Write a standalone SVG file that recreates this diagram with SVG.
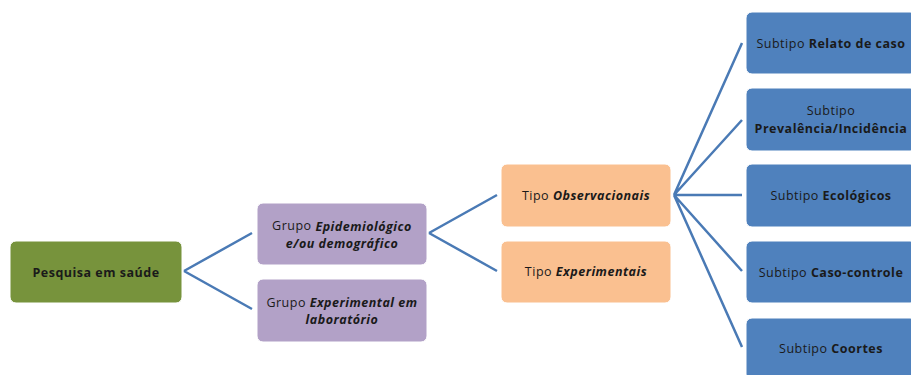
<svg xmlns="http://www.w3.org/2000/svg" width="911" height="375" viewBox="0 0 911 375">
<style>
text{font-family:"Open Sans","DejaVu Sans",sans-serif;font-size:12.5px;letter-spacing:0.5px;fill:#1a1a1a;text-anchor:middle;dominant-baseline:central}
.b{font-weight:bold}
.bi{font-weight:bold;font-style:italic}
.root{fill:#77933C}
.grp{fill:#B2A1C7}
.tip{fill:#FAC090}
.sub{fill:#4F81BD}
.box{stroke:#ffffff;stroke-width:1}
#connectors path{fill:none;stroke:#4A7AB5;stroke-width:2.5}
</style>
<rect width="911" height="375" fill="#ffffff"/>
<g id="connectors">
<path d="M184,271 L252,233 M184,271 L252,309"/>
<path d="M429,233 L497,195 M429,233 L497,271"/>
<path d="M674,195 L742,43 M674,195 L742,120 M674,195 L742,195 M674,195 L742,271 M674,195 L742,347"/>
</g>
<g id="root">
<rect class="root box" x="10" y="241" width="172" height="62" rx="6"/>
<text x="96" y="272" class="b">Pesquisa em saúde</text>
</g>
<g id="grupo-epidemiologico">
<rect class="grp box" x="257" y="203" width="170" height="62" rx="6"/>
<text x="342" y="225.5">Grupo <tspan class="bi">Epidemiológico</tspan><tspan x="342" dy="17" class="bi">e/ou demográfico</tspan></text>
</g>
<g id="grupo-experimental">
<rect class="grp box" x="257" y="279" width="170" height="63" rx="6"/>
<text x="342" y="302">Grupo <tspan class="bi">Experimental em</tspan><tspan x="342" dy="17" class="bi">laboratório</tspan></text>
</g>
<g id="tipo-observacionais">
<rect class="tip box" x="501" y="164" width="170" height="63" rx="6"/>
<text x="586" y="195">Tipo <tspan class="bi">Observacionais</tspan></text>
</g>
<g id="tipo-experimentais">
<rect class="tip box" x="501" y="241" width="170" height="62" rx="6"/>
<text x="586" y="271">Tipo <tspan class="bi">Experimentais</tspan></text>
</g>
<g id="subtipo-relato">
<rect class="sub box" x="746" y="12" width="170" height="62" rx="6"/>
<text x="831" y="43">Subtipo <tspan class="b">Relato de caso</tspan></text>
</g>
<g id="subtipo-prevalencia">
<rect class="sub box" x="746" y="88" width="170" height="63" rx="6"/>
<text x="831" y="110.5">Subtipo<tspan x="831" dy="17" class="b">Prevalência/Incidência</tspan></text>
</g>
<g id="subtipo-ecologicos">
<rect class="sub box" x="746" y="164" width="170" height="63" rx="6"/>
<text x="831" y="195">Subtipo <tspan class="b">Ecológicos</tspan></text>
</g>
<g id="subtipo-caso-controle">
<rect class="sub box" x="746" y="241" width="170" height="62" rx="6"/>
<text x="831" y="272">Subtipo <tspan class="b">Caso-controle</tspan></text>
</g>
<g id="subtipo-coortes">
<rect class="sub box" x="746" y="318" width="170" height="62" rx="6"/>
<text x="831" y="348">Subtipo <tspan class="b">Coortes</tspan></text>
</g>
</svg>
